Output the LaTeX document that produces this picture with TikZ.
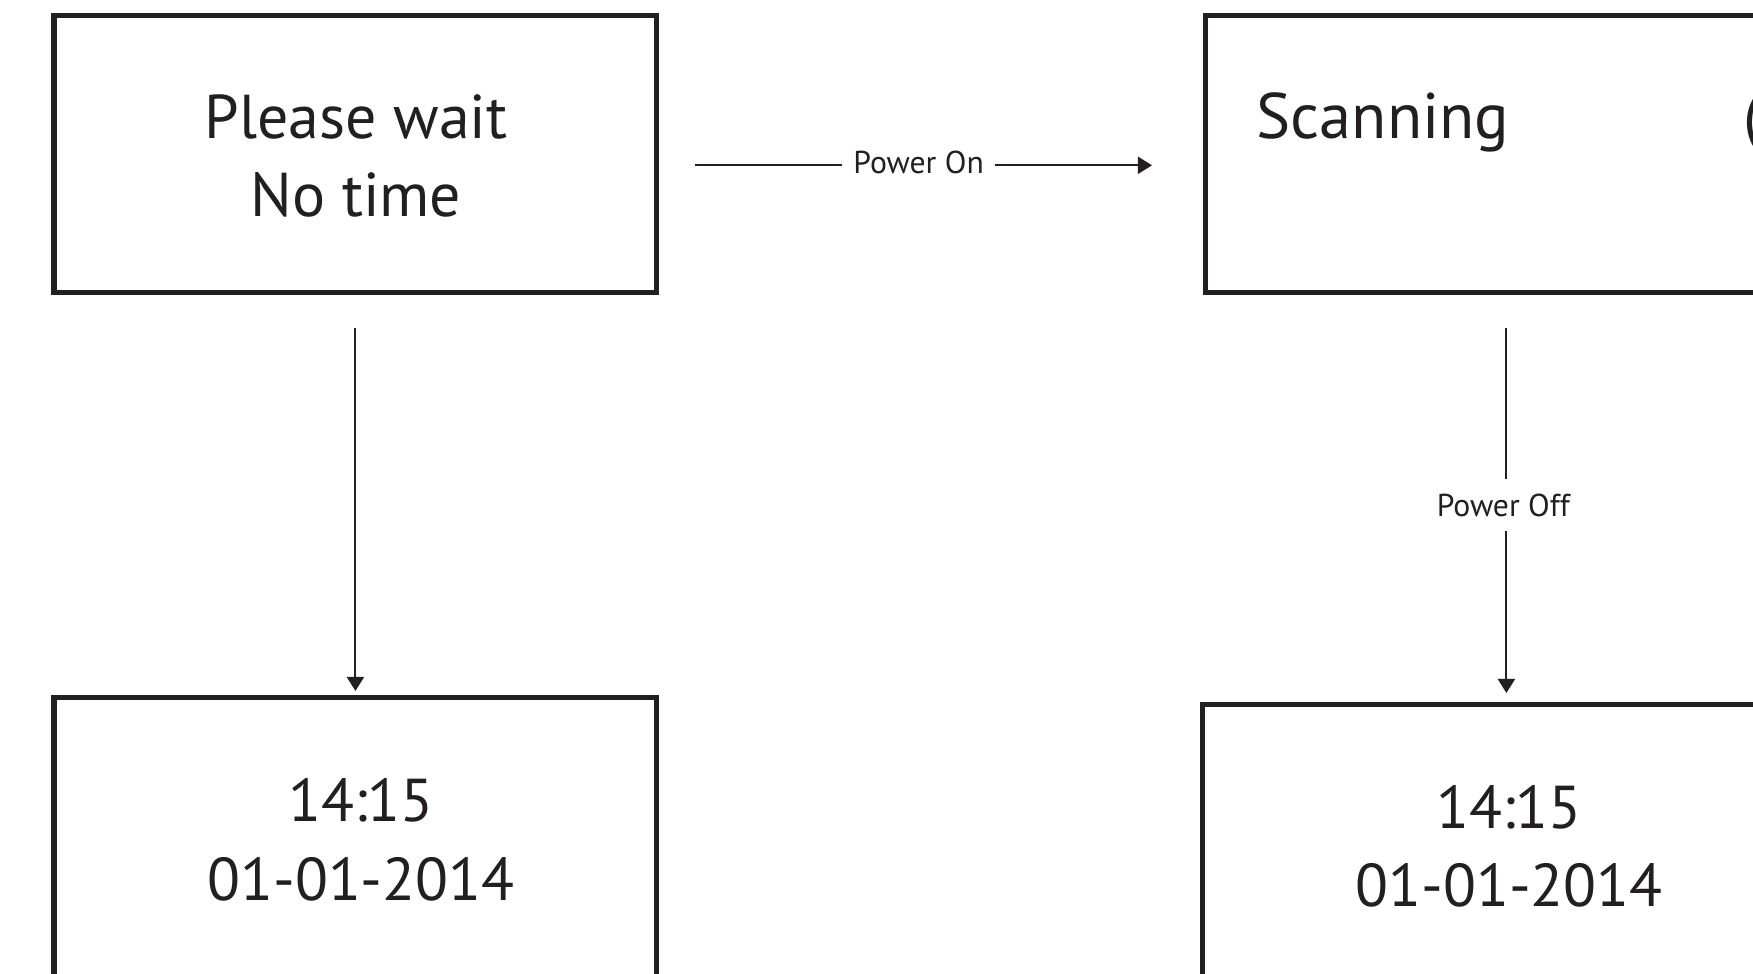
\documentclass[tikz,border=0pt]{standalone}
\usepackage{fontspec}
\setmainfont{PT Sans}
\usetikzlibrary{arrows.meta}
\definecolor{ink}{HTML}{231F20}
\begin{document}
\begin{tikzpicture}[x=0.01cm,y=-0.01cm,
  screen/.style={draw=ink, line width=0.05cm, inner sep=0pt, outer sep=0pt, minimum width=6.025cm},
  bigtext/.style={text=ink, font=\fontsize{17.6pt}{22pt}\selectfont, inner sep=0pt, anchor=base},
  digits/.style={bigtext, font=\fontsize{17.2pt}{22pt}\selectfont},
  lbl/.style={text=ink, font=\fontsize{9pt}{10pt}\selectfont, fill=white, inner ysep=0.12cm, inner xsep=0.11cm},
  arr/.style={draw=ink, line width=0.02cm, -{Triangle[length=0.14cm,width=0.17cm]}}]
\clip (0,0) rectangle (1753,974);
\fill[white] (0,0) rectangle (1753,974);
% boxes
\node[screen, minimum height=2.765cm, anchor=north west] (b1) at (54,16) {};
\node[screen, minimum height=2.765cm, anchor=north west] (b2) at (1205,16) {};
\node[screen, minimum height=2.95cm, anchor=north west] (b3) at (54,697.5) {};
\node[screen, minimum height=2.95cm, anchor=north west] (b4) at (1202,705) {};
% texts
\node[bigtext] (t1) at (356,139) {Please wait};
\node[bigtext] (t2) at (356,216.7) {No time};
\node[bigtext, font=\fontsize{18.3pt}{22pt}\selectfont, anchor=base west] (t3) at (1256,139) {Scanning};
\node[bigtext, font=\fontsize{18.3pt}{22pt}\selectfont, anchor=base west] (t4) at (1743,139) {(};
\node[digits] (t5) at (361,822) {14:15};
\node[digits] (t6) at (361,901) {01-01-2014};
\node[digits] (t7) at (1509,829) {14:15};
\node[digits] (t8) at (1509,907) {01-01-2014};
% connectors
\draw[arr] ([xshift=0.385cm,yshift=-0.11cm]b1.east) -- ([xshift=-0.53cm,yshift=-0.11cm]b2.west)
  node[lbl, pos=0.489, yshift=0.03cm] (l1) {Power On};
\draw[arr, shorten <=0.35cm, shorten >=0.065cm] (b1.south) -- (b3.north);
\draw[arr, shorten <=0.35cm, shorten >=0.12cm] (b2.south) -- (b2.south |- b4.north)
  node[lbl, pos=0.515, inner ysep=0.15cm, inner xsep=0.02cm, xshift=-0.03cm] (l2) {Power Off};
\end{tikzpicture}
\end{document}
